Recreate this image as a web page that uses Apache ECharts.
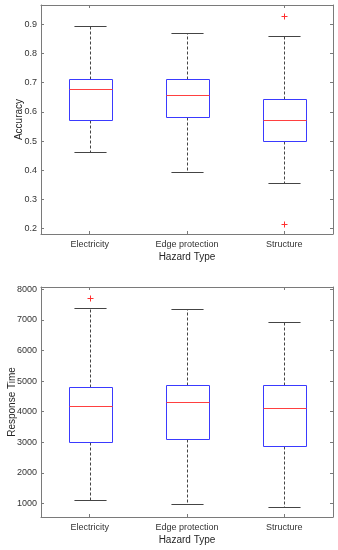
<!DOCTYPE html>
<html><head><meta charset="utf-8">
<script src="https://cdn.jsdelivr.net/npm/echarts@6/dist/echarts.min.js"></script>
<style>html,body{margin:0;padding:0;background:#fff}#c{width:338px;height:550px}</style>
</head><body><div id="c"></div>
<script>
const categories = ['Electricity', 'Edge protection', 'Structure'];
// Accuracy box stats: lower whisker, Q1, median, Q3, upper whisker
const accLow = [0.464, 0.394, 0.356];
const accQ1 = [0.574, 0.581, 0.500];
const accMed = [0.680, 0.659, 0.573];
const accQ3 = [0.714, 0.711, 0.643];
const accHigh = [0.894, 0.869, 0.859];
const accOutliers = [[2, 0.929], [2, 0.216]];
// Response time box stats
const rtLow = [1098, 990, 880];
const rtQ1 = [3000, 3108, 2890];
const rtMed = [4176, 4306, 4111];
const rtQ3 = [4814, 4880, 4880];
const rtHigh = [7390, 7371, 6934];
const rtOutliers = [[0, 7716]];
const accRange = [0.182, 0.966];
const rtRange = [556, 8075];

const FONT = 'Liberation Sans';
const FRAME = '#7a7a7a';
function crisp(v) { return Math.round(v) + 0.5; }

function boxData(lo, q1, md, q3, hi) {
  return categories.map((c, i) => [i, lo[i], q1[i], md[i], q3[i], hi[i]]);
}

function renderBox(params, api) {
  const i = api.value(0);
  const band = api.size([1, 0])[0];
  const bw = band * 0.448, cw = band * 0.33;
  const cx = crisp(api.coord([i, api.value(1)])[0]);
  const yLo = crisp(api.coord([i, api.value(1)])[1]);
  const yQ1 = crisp(api.coord([i, api.value(2)])[1]);
  const yMd = crisp(api.coord([i, api.value(3)])[1]);
  const yQ3 = crisp(api.coord([i, api.value(4)])[1]);
  const yHi = crisp(api.coord([i, api.value(5)])[1]);
  const x0 = Math.round(cx - bw / 2) + 0.5, x1 = Math.round(cx + bw / 2) + 0.5;
  const dash = { stroke: '#444', lineWidth: 1, lineDash: [3, 2] };
  const cap = { stroke: '#444', lineWidth: 1 };
  return {
    type: 'group',
    children: [
      { type: 'line', shape: { x1: cx, y1: yQ3, x2: cx, y2: yHi }, style: dash },
      { type: 'line', shape: { x1: cx, y1: yQ1, x2: cx, y2: yLo }, style: dash },
      { type: 'line', shape: { x1: cx - cw / 2, y1: yHi, x2: cx + cw / 2, y2: yHi }, style: cap },
      { type: 'line', shape: { x1: cx - cw / 2, y1: yLo, x2: cx + cw / 2, y2: yLo }, style: cap },
      { type: 'rect', shape: { x: x0, y: yQ3, width: x1 - x0, height: yQ1 - yQ3 }, style: { fill: 'none', stroke: '#3a3aff', lineWidth: 1 } },
      { type: 'line', shape: { x1: x0, y1: yMd, x2: x1, y2: yMd }, style: { stroke: '#ff4040', lineWidth: 1 } }
    ]
  };
}

function renderOutlier(params, api) {
  const p = api.coord([api.value(0), api.value(1)]);
  const x = crisp(p[0]), y = crisp(p[1]), s = 3;
  const st = { stroke: '#ff3030', lineWidth: 1 };
  return {
    type: 'group',
    children: [
      { type: 'line', shape: { x1: x - s, y1: y, x2: x + s, y2: y }, style: st },
      { type: 'line', shape: { x1: x, y1: y - s, x2: x, y2: y + s }, style: st }
    ]
  };
}

function xAxes(gridIndex) {
  return [
    {
      type: 'category', data: categories, gridIndex, position: 'bottom',
      boundaryGap: true,
      name: 'Hazard Type', nameLocation: 'middle', nameGap: 18, nameMoveOverlap: false,
      nameTextStyle: { fontFamily: FONT, fontSize: 10, color: '#262626' },
      axisLine: { show: true, lineStyle: { color: FRAME, width: 1 } },
      axisTick: { show: true, inside: true, alignWithLabel: true, length: 3, lineStyle: { color: FRAME } },
      axisLabel: { fontFamily: FONT, fontSize: 9, color: '#333', margin: 6 },
      splitLine: { show: false }
    },
    {
      type: 'category', data: categories, gridIndex, position: 'top',
      boundaryGap: true,
      axisLine: { show: true, lineStyle: { color: FRAME, width: 1 } },
      axisTick: { show: true, inside: true, alignWithLabel: true, length: 3, lineStyle: { color: FRAME } },
      axisLabel: { show: false },
      splitLine: { show: false }
    }
  ];
}

function yAxes(gridIndex, range, name, gap, fmt) {
  return [
    {
      type: 'value', gridIndex, position: 'left', min: range[0], max: range[1], splitNumber: 8,
      name, nameLocation: 'middle', nameGap: gap, nameMoveOverlap: false,
      nameTextStyle: { fontFamily: FONT, fontSize: 10, color: '#262626' },
      axisLine: { show: true, lineStyle: { color: FRAME, width: 1 } },
      axisTick: { show: true, inside: true, length: 3, lineStyle: { color: FRAME } },
      axisLabel: { fontFamily: FONT, fontSize: 9, color: '#333', margin: 4, showMinLabel: false, showMaxLabel: false, formatter: fmt },
      splitLine: { show: false }
    },
    {
      type: 'value', gridIndex, position: 'right', min: range[0], max: range[1], splitNumber: 8,
      axisLine: { show: true, lineStyle: { color: FRAME, width: 1 } },
      axisTick: { show: true, inside: true, length: 3, lineStyle: { color: FRAME } },
      axisLabel: { show: false },
      splitLine: { show: false }
    }
  ];
}

const chart = echarts.init(document.getElementById('c'), null, { renderer: 'canvas' });
chart.setOption({
  animation: false,
  backgroundColor: '#fff',
  grid: [
    { left: 41, right: 5, top: 5, height: 229, containLabel: false, outerBoundsMode: 'none' },
    { left: 41, right: 5, top: 287, height: 230, containLabel: false, outerBoundsMode: 'none' }
  ],
  xAxis: [...xAxes(0), ...xAxes(1)],
  yAxis: [
    ...yAxes(0, accRange, 'Accuracy', 17, v => v.toFixed(1)),
    ...yAxes(1, rtRange, 'Response Time', 24, v => String(Math.round(v)))
  ],
  series: [
    { type: 'custom', xAxisIndex: 0, yAxisIndex: 0, renderItem: renderBox, data: boxData(accLow, accQ1, accMed, accQ3, accHigh), encode: { x: 0, y: [1, 2, 3, 4, 5] }, clip: false },
    { type: 'custom', xAxisIndex: 0, yAxisIndex: 0, renderItem: renderOutlier, data: accOutliers, encode: { x: 0, y: 1 } },
    { type: 'custom', xAxisIndex: 2, yAxisIndex: 2, renderItem: renderBox, data: boxData(rtLow, rtQ1, rtMed, rtQ3, rtHigh), encode: { x: 0, y: [1, 2, 3, 4, 5] }, clip: false },
    { type: 'custom', xAxisIndex: 2, yAxisIndex: 2, renderItem: renderOutlier, data: rtOutliers, encode: { x: 0, y: 1 } }
  ]
});
</script></body></html>
